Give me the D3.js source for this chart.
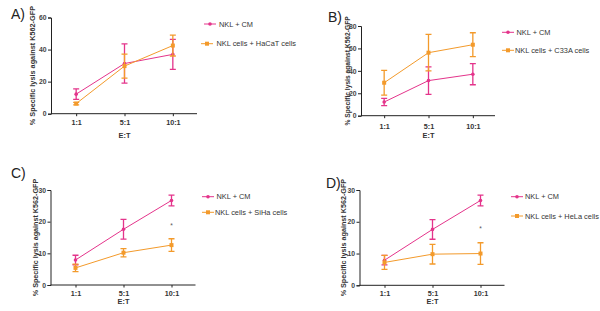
<!DOCTYPE html>
<html>
<head>
<meta charset="utf-8">
<script src="https://cdn.jsdelivr.net/npm/d3@7"></script>
<style>
  body { margin: 0; background: #fff; }
  svg { font-family: "Liberation Sans", Arial, sans-serif; }
</style>
</head>
<body>
<script>
// categories (effector : target ratio)
const ratios = ['1:1', '5:1', '10:1'];

// NKL + CM control, mean and error (panels A/B and C/D)
const cmAB = [12.2, 31.3, 37.0];
const cmABerr = [3.3, 12.2, 9.4];
const cmCD = [7.9, 17.6, 26.7];
const cmCDerr = [1.5, 3.1, 1.7];

// co-culture series
const hacat = [6.3, 29.7, 42.5];
const hacatErr = [0.8, 7.5, 6.5];
const c33a = [29.4, 56.2, 63.3];
const c33aErr = [11.0, 16.3, 10.7];
const siha = [5.4, 10.2, 12.6];
const sihaErr = [1.2, 1.3, 2.0];
const hela = [7.2, 9.8, 10.0];
const helaErr = [2.2, 3.1, 3.4];

// y ticks
const ticksA = [0, 20, 40, 60];
const ticksB = [0, 20, 40, 60, 80];
const ticksCD = [0, 10, 20, 30];

const pink = '#e4348b';
const orange = '#f39a2b';

const panels = [
  { label: 'A)', lx: 11, ly: 19, x0: 52, x1: 197, yb: 113.7, yt: 17.5, ymax: 60, ticks: ticksA,
    cm: cmAB, cmErr: cmABerr, other: hacat, otherErr: hacatErr, name: 'NKL cells + HaCaT cells',
    ylx: 32, ylSize: 7.3, tickY: 122.5, etY: 135.3,
    leg: [[210, 219, 24], [207, 216.5, 43.7]] },
  { label: 'B)', lx: 328, ly: 22, x0: 362, x1: 495, yb: 115.7, yt: 26, ymax: 80, ticks: ticksB,
    cm: cmAB, cmErr: cmABerr, other: c33a, otherErr: c33aErr, name: 'NKL cells + C33A cells',
    ylx: 347.5, ylSize: 6.7, tickY: 126.8, etY: 135,
    leg: [[508, 516.5, 32.3], [508, 515, 50.3]] },
  { label: 'C)', lx: 11, ly: 178, x0: 51.5, x1: 195.5, yb: 285, yt: 190, ymax: 30, ticks: ticksCD,
    cm: cmCD, cmErr: cmCDerr, other: siha, otherErr: sihaErr, name: 'NKL cells + SiHa cells',
    ylx: 35, ylSize: 7.2, tickY: 293.5, etY: 301.5, star: 19.2,
    leg: [[208, 216.5, 196.7], [208, 215, 212.3]] },
  { label: 'D)', lx: 326, ly: 188, x0: 360.5, x1: 504.5, yb: 285.3, yt: 190, ymax: 30, ticks: ticksCD,
    cm: cmCD, cmErr: cmCDerr, other: hela, otherErr: helaErr, name: 'NKL cells + HeLa cells',
    ylx: 343, ylSize: 7.2, tickY: 293.5, etY: 301.5, star: 18.2,
    leg: [[517, 525, 196.7], [517, 525, 216]] }
];

const svg = d3.select('body')
  .append('svg')
  .attr('width', 600)
  .attr('height', 311);

panels.forEach(p => {
  const x = d3.scalePoint().domain(ratios).range([p.x0, p.x1]).padding(0.5);
  const y = d3.scaleLinear().domain([0, p.ymax]).range([p.yb, p.yt]);
  const g = svg.append('g');

  // panel letter
  g.append('text')
    .attr('x', p.lx).attr('y', p.ly)
    .style('font-size', '14px').style('fill', '#222')
    .text(p.label);

  // y axis
  const yAxis = g.append('g')
    .attr('transform', `translate(${p.x0 - 1},0)`)
    .call(d3.axisLeft(y).tickValues(p.ticks).tickSize(3).tickPadding(1.5));
  yAxis.selectAll('text').style('font-size', '6.8px').style('font-weight', 'bold').style('fill', '#444');

  // x axis
  const xAxis = g.append('g')
    .attr('transform', `translate(0,${p.yb})`)
    .call(d3.axisBottom(x).tickSize(2.5).tickPadding(3));
  xAxis.select('.domain').attr('d', `M${p.x0 - 1},0H${p.x1}`);
  xAxis.selectAll('text').style('font-size', '7.2px').style('font-weight', 'bold').style('fill', '#333')
    .attr('y', p.tickY - p.yb).attr('dy', '0.35em');
  g.selectAll('.domain, .tick line').attr('stroke', '#222').attr('stroke-width', 1);

  g.append('text')
    .attr('x', (p.x0 + p.x1) / 2).attr('y', p.etY)
    .attr('text-anchor', 'middle').attr('dy', '0.35em')
    .style('font-size', '7.4px').style('font-weight', 'bold').style('fill', '#333')
    .text('E:T');

  g.append('text')
    .attr('transform', `translate(${p.ylx},${(p.yb + p.yt) / 2}) rotate(-90)`)
    .attr('text-anchor', 'middle').attr('dy', '0.35em')
    .style('font-size', p.ylSize + 'px').style('font-weight', 'bold').style('fill', '#333')
    .text('% Specific lysis against K562-GFP');

  // series
  const series = [
    { vals: p.cm, err: p.cmErr, color: pink, shape: 'circle', name: 'NKL + CM' },
    { vals: p.other, err: p.otherErr, color: orange, shape: 'square', name: p.name }
  ];

  series.forEach((s, si) => {
    const pts = ratios.map((r, i) => ({ r: r, v: s.vals[i], e: s.err[i] }));
    const sg = g.append('g');

    sg.append('path')
      .datum(pts)
      .attr('fill', 'none').attr('stroke', s.color).attr('stroke-width', 1)
      .attr('d', d3.line().x(d => x(d.r)).y(d => y(d.v)));

    // error bars
    sg.selectAll('.eb').data(pts).join('path')
      .attr('fill', 'none').attr('stroke', s.color).attr('stroke-width', 1.3)
      .attr('d', d => {
        const cx = x(d.r), lo = y(d.v - d.e), hi = y(d.v + d.e);
        return `M${cx},${lo}V${hi}M${cx - 3},${hi}H${cx + 3}M${cx - 3},${lo}H${cx + 3}`;
      });

    if (s.shape === 'circle') {
      sg.selectAll('circle').data(pts).join('circle')
        .attr('cx', d => x(d.r)).attr('cy', d => y(d.v)).attr('r', 1.8)
        .attr('fill', s.color);
    } else {
      sg.selectAll('rect').data(pts).join('rect')
        .attr('x', d => x(d.r) - 2).attr('y', d => y(d.v) - 2)
        .attr('width', 4).attr('height', 4)
        .attr('fill', s.color);
    }

    // legend
    const [mx, tx, ly] = p.leg[si];
    g.append('line')
      .attr('x1', mx - 6).attr('x2', mx + 6).attr('y1', ly).attr('y2', ly)
      .attr('stroke', s.color).attr('stroke-width', 1);
    if (s.shape === 'circle') {
      g.append('circle').attr('cx', mx).attr('cy', ly).attr('r', 1.8).attr('fill', s.color);
    } else {
      g.append('rect').attr('x', mx - 2).attr('y', ly - 2).attr('width', 4).attr('height', 4).attr('fill', s.color);
    }
    g.append('text')
      .attr('x', tx).attr('y', ly).attr('dy', '0.35em')
      .style('font-size', '7.4px').style('fill', '#333')
      .text(s.name);
  });

  if (p.star) {
    g.append('text')
      .attr('x', x('10:1')).attr('y', y(p.star))
      .attr('text-anchor', 'middle').attr('dy', '0.55em')
      .style('font-size', '6.5px').style('fill', '#555')
      .text('*');
  }
});
</script>
</body>
</html>
